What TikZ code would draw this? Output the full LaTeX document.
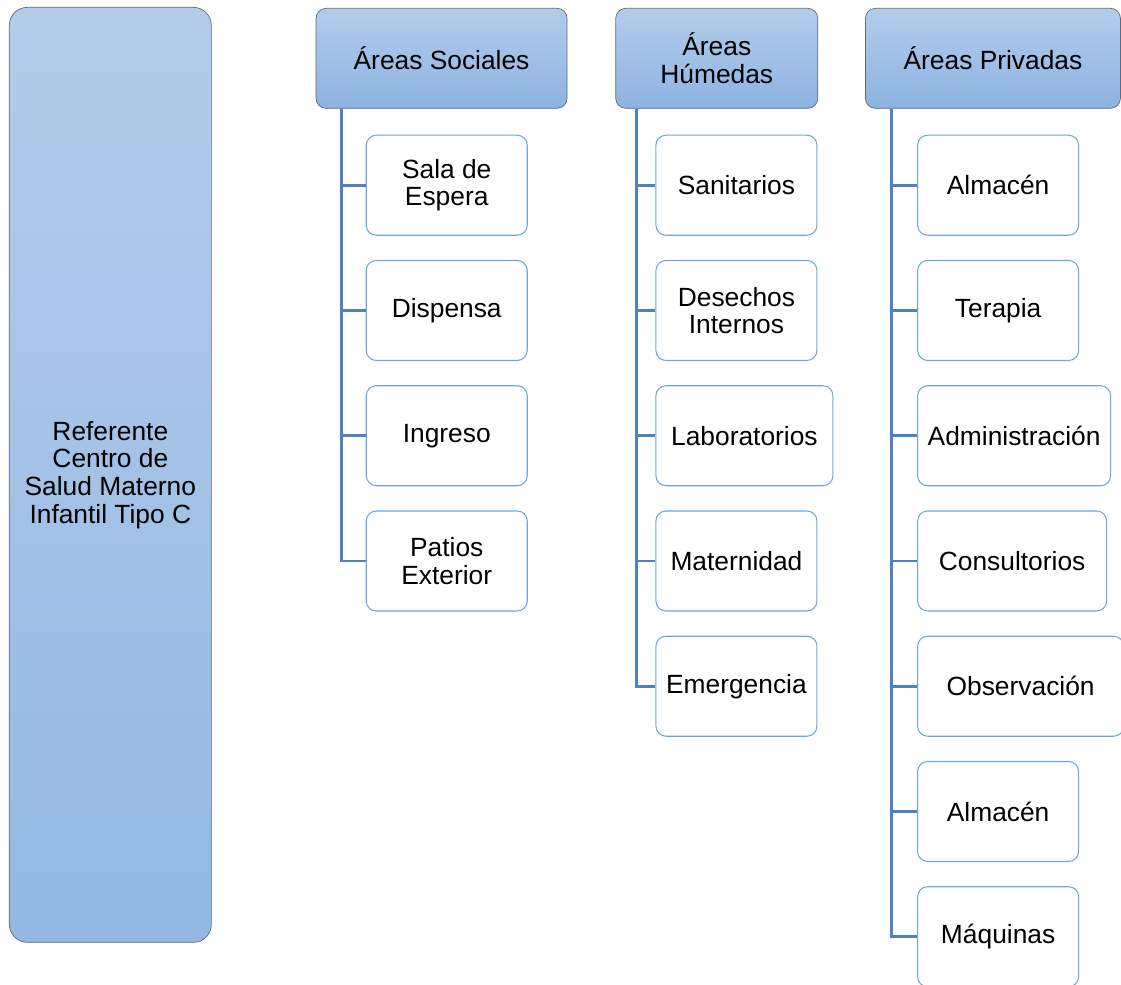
\documentclass[tikz,border=0pt]{standalone}
\usepackage{fontspec}
\setmainfont{Liberation Sans}
\usetikzlibrary{positioning,calc}
\definecolor{hdrtop}{RGB}{179,204,234}
\definecolor{hdrbot}{RGB}{141,179,226}
\definecolor{rootbot}{RGB}{148,184,227}
\definecolor{hdrline}{RGB}{96,106,116}
\definecolor{itemline}{RGB}{112,166,221}
\definecolor{linkblue}{RGB}{79,129,189}

\begin{document}
\begin{tikzpicture}[
  txt/.style={align=center, font=\fontsize{15}{15.7}\selectfont, inner sep=2pt},
  root/.style={txt, draw=hdrline, rounded corners=0.36cm, top color=hdrtop,
               bottom color=rootbot, minimum width=4.04cm, minimum height=18.7cm},
  head/.style={txt, draw=hdrline, rounded corners=0.2cm, top color=hdrtop,
               bottom color=hdrbot, minimum height=2cm},
  item/.style={txt, draw=itemline, semithick, rounded corners=0.2cm, fill=white,
               minimum width=3.22cm, minimum height=2cm, anchor=north west},
  link/.style={draw=linkblue, line width=1.6pt}
]
  \useasboundingbox (0,0) rectangle (22.42,-19.7);
  \clip (0,0) rectangle (22.42,-19.7);

  \node[root, anchor=north west] (ref) at (0.18,-0.14)
    {Referente\\Centro de\\Salud Materno\\Infantil Tipo C};

  \node[head, minimum width=5.02cm, right=2.08cm of ref.north east, anchor=north west,
        yshift=-0.02cm] (hs) {Áreas Sociales};
  \node[head, minimum width=4.04cm, right=0.96cm of hs.north east, anchor=north west]
    (hh) {Áreas\\Húmedas};
  \node[head, minimum width=5.1cm, right=0.94cm of hh.north east, anchor=north west]
    (hp) {Áreas Privadas};

  \coordinate (ts) at ($(hs.south west)+(0.52,0)$);
  \coordinate (th) at ($(hh.south west)+(0.42,0)$);
  \coordinate (tp) at ($(hp.south west)+(0.52,0)$);

  \foreach \t [count=\i, evaluate=\i as \dy using -0.52-2.505*(\i-1)]
      in {{Sala de\\Espera},Dispensa,Ingreso,{Patios\\Exterior}}{
    \node[item] (s\i) at ($(hs.south west)+(1.0,\dy)$) {\t};
    \draw[link] (ts) |- (s\i.west);
  }

  \foreach \t/\w [count=\i, evaluate=\i as \dy using -0.52-2.505*(\i-1)]
      in {Sanitarios/3.22,{Desechos\\Internos}/3.22,Laboratorios/3.54,
          Maternidad/3.22,Emergencia/3.22}{
    \node[item, minimum width=\w cm] (h\i) at ($(hh.south west)+(0.8,\dy)$) {\t};
    \draw[link] (th) |- (h\i.west);
  }

  \foreach \t/\w [count=\i, evaluate=\i as \dy using -0.52-2.505*(\i-1)]
      in {Almacén/3.22,Terapia/3.22,Administración/3.86,Consultorios/3.78,
          Observación/4.12,Almacén/3.22,Máquinas/3.22}{
    \node[item, minimum width=\w cm] (p\i) at ($(hp.south west)+(1.04,\dy)$) {\t};
    \draw[link] (tp) |- (p\i.west);
  }
\end{tikzpicture}
\end{document}
